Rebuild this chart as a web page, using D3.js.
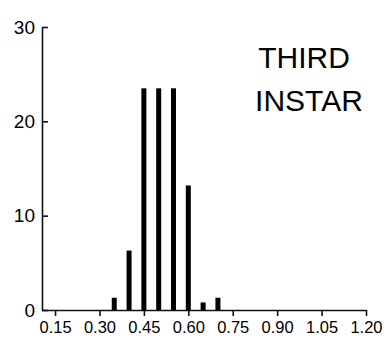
<!DOCTYPE html>
<html>
<head>
<meta charset="utf-8">
<script src="https://cdn.jsdelivr.net/npm/d3@7"></script>
<style>
    body { margin: 0; background: #fff; }
    svg { display: block; }
    .axis text { font-family: "Liberation Sans", Arial, sans-serif; fill: #000; }
    .axis path, .axis line { stroke: #111; stroke-width: 1.6; }
</style>
</head>
<body>
<div id="chart"></div>
<script>
// head capsule width classes (mm) and percent of larvae
const bins = [0.35, 0.40, 0.45, 0.50, 0.55, 0.60, 0.65, 0.70];
const percent = [1.3, 6.3, 23.5, 23.5, 23.5, 13.2, 0.8, 1.3];
const xTicks = [0.15, 0.30, 0.45, 0.60, 0.75, 0.90, 1.05, 1.20];
const yTicks = [0, 10, 20, 30];
const titleLines = ["THIRD", "INSTAR"];

let width = 389,
    height = 338;

let svg = d3.select("#chart").append("svg")
    .attr("width", width)
    .attr("height", height);

let x = d3.scaleLinear().domain([0.106, 1.20]).range([42, 366]);
let y = d3.scaleLinear().domain([0, 30]).range([310, 27]);

// bars
svg.selectAll(".bar")
    .data(bins.map((b, i) => ({ bin: b, value: percent[i] })))
    .enter().append("rect")
    .attr("class", "bar")
    .attr("x", d => x(d.bin) - 2.5)
    .attr("width", 5)
    .attr("y", d => y(d.value))
    .attr("height", d => y(0) - y(d.value))
    .attr("fill", "#000");

// x axis
let xAxis = svg.append("g")
    .attr("class", "axis")
    .attr("transform", `translate(0,${y(0)})`)
    .call(d3.axisBottom(x)
        .tickValues(xTicks)
        .tickFormat(d3.format(".2f"))
        .tickSizeInner(6)
        .tickSizeOuter(0)
        .tickPadding(5));
xAxis.selectAll("text").style("font-size", "16.5px");

// y axis, ticks pointing inward
let yAxis = svg.append("g")
    .attr("class", "axis")
    .attr("transform", `translate(${x.range()[0]},0)`)
    .call(d3.axisLeft(y)
        .tickValues(yTicks)
        .tickSizeInner(-6)
        .tickSizeOuter(0)
        .tickPadding(7));
yAxis.selectAll("text").style("font-size", "19px");

// panel title
svg.append("g").selectAll("text")
    .data(titleLines)
    .enter().append("text")
    .attr("x", (d, i) => i === 0 ? 304 : 309)
    .attr("y", (d, i) => 68 + i * 43)
    .attr("text-anchor", "middle")
    .style("font-family", "'Liberation Sans', Arial, sans-serif")
    .style("font-size", "30px")
    .text(d => d);
</script>
</body>
</html>
